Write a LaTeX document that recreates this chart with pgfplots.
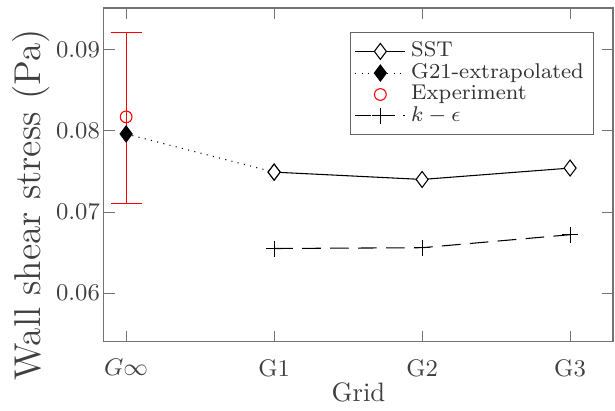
\documentclass[border=0pt]{standalone}
\usepackage{pgfplots}
\pgfplotsset{compat=1.18}
\begin{document}
\begin{tikzpicture}
\begin{axis}[
  scale only axis,
  width=191pt, height=125.3pt,
  xmin=-0.15, xmax=3.29,
  ymin=0.054, ymax=0.0951,
  xtick={0,1,2,3},
  xticklabels={$G\infty$, G1, G2, G3},
  ytick={0.06,0.07,0.08,0.09},
  yticklabel style={/pgf/number format/fixed, /pgf/number format/precision=2, /pgf/number format/fixed zerofill, xshift=2pt},
  xticklabel style={yshift=-3pt},
  scaled y ticks=false,
  tick label style={font=\small, text=black!75},
  xlabel style={font=\normalsize, text=black!75, at={(axis description cs:0.5,-0.15)}, anchor=center},
  ylabel style={font=\fontsize{14}{16}\selectfont, text=black!75, at={(axis description cs:-0.143,0.41)}, anchor=center},
  xlabel={Grid},
  ylabel={Wall shear stress (Pa)},
  axis line style={black!55},
  major tick style={black!55},
  legend style={at={(0.962,0.928)}, anchor=north east, font=\footnotesize, draw=black!60, row sep=-3pt, inner sep=1.5pt, text=black!80},
  legend cell align=left,
  legend image code/.code={\draw[mark repeat=2,mark phase=2,#1] plot coordinates {(0cm,0cm)(0.33cm,0cm)(0.66cm,0cm)};},
]
\addlegendimage{black, mark=diamond*, mark size=3pt, mark options={fill=white, solid}}
\addlegendentry{SST}
\addlegendimage{black, dotted, mark=diamond*, mark size=3pt, mark options={solid}}
\addlegendentry{G21-extrapolated}
\addlegendimage{red, only marks, mark=o, mark size=2.2pt}
\addlegendentry{Experiment}
\addlegendimage{black, dash pattern=on 6pt off 3pt, mark=+, mark size=3pt, mark options={solid}}
\addlegendentry{$k-\epsilon$}

% G21-extrapolated dotted line
\addplot[black, dotted, mark=diamond*, mark size=3pt, mark options={solid}, forget plot] coordinates {(0,0.0796) (1,0.0749)};
% SST
\addplot[black, mark=diamond*, mark size=3pt, mark options={fill=white, solid}, forget plot] coordinates {(1,0.0749) (2,0.0740) (3,0.0754)};
% k-epsilon
\addplot[black, dash pattern=on 7pt off 3.5pt, mark=+, mark size=3pt, mark options={solid}, forget plot] coordinates {(1,0.0655) (2,0.0656) (3,0.0672)};
% Experiment
\addplot[red, only marks, mark=o, mark size=2.2pt, forget plot,
  error bars/.cd, y dir=both, y explicit, error bar style={red, thin}, error mark options={rotate=90, mark size=5.8pt, red}]
  coordinates {(0,0.0817) += (0,0.0104) -= (0,0.0107)};
\end{axis}
\path (current axis.south west) ++(-39pt,-24.4pt) rectangle ([xshift=0.75pt,yshift=3pt]current axis.north east);
\end{tikzpicture}
\end{document}
